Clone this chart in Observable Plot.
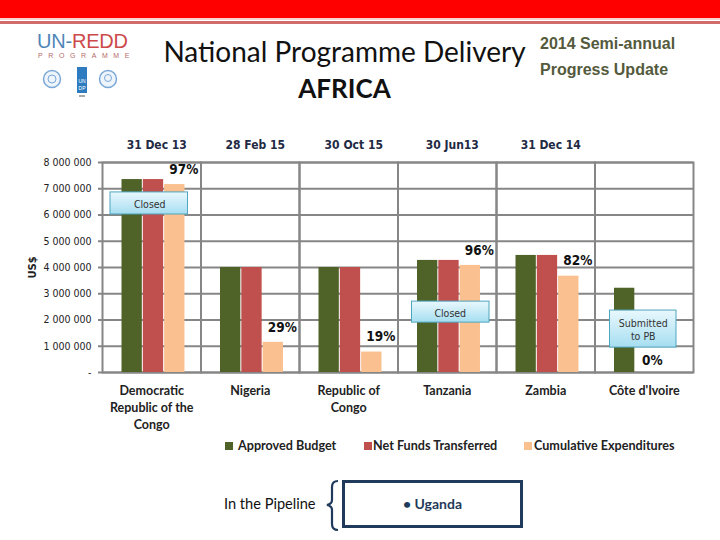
<!DOCTYPE html>
<html><head><meta charset="utf-8">
<script src="https://cdn.jsdelivr.net/npm/d3@7"></script>
<script src="https://cdn.jsdelivr.net/npm/@observablehq/plot@0.6"></script>
<style>
body{margin:0;background:#fff;}
#page{position:relative;width:720px;height:540px;overflow:hidden;background:#fff;font-family:Lato,"Open Sans",sans-serif;}
.abs{position:absolute;white-space:nowrap;}
</style></head>
<body>
<svg width="0" height="0" style="position:absolute"><defs>
<linearGradient id="cg" x1="0" y1="0" x2="0" y2="1">
<stop offset="0" stop-color="#e9f8fd"/><stop offset="1" stop-color="#a6def1"/>
</linearGradient></defs></svg>
<div id="page">
  <div class="abs" style="left:0;top:0;width:720px;height:18px;background:#ff0000"></div>
  <div class="abs" style="left:0;top:18px;width:720px;height:2px;background:#f6d4d4"></div>
  <div class="abs" style="left:0;top:21px;width:720px;height:3px;background:#cf6b6b"></div>
  <div class="abs" style="left:37px;top:29px;font-family:'Liberation Sans',Arial,sans-serif;font-size:20px;letter-spacing:-0.2px;line-height:24px"><span style="color:#4f86b8">UN-</span><span style="color:#cc4a4a">REDD</span></div>
  <div class="abs" style="left:38px;top:51px;font-family:'Liberation Sans',Arial,sans-serif;font-size:7px;letter-spacing:5.6px;color:#b76a6a;line-height:9px">PROGRAMME</div>
  <svg class="abs" style="left:40px;top:66px" width="80" height="34">
    <circle cx="12" cy="13" r="8.5" fill="#eef4fb" stroke="#7aa8d6" stroke-width="1.5"/>
    <circle cx="12" cy="13" r="4" fill="none" stroke="#7aa8d6" stroke-width="1"/>
    <rect x="37" y="1" width="10" height="26" fill="#2f7bc0"/>
    <text x="42" y="17" font-size="5" fill="#fff" text-anchor="middle" font-family="Liberation Sans">UN</text>
    <text x="42" y="24" font-size="5" fill="#fff" text-anchor="middle" font-family="Liberation Sans">DP</text>
    <rect x="39" y="29" width="6" height="2" fill="#aaa"/>
    <circle cx="68" cy="13" r="8.5" fill="#eef4fb" stroke="#7aa8d6" stroke-width="1.5"/>
    <circle cx="68" cy="12" r="3.5" fill="none" stroke="#7aa8d6" stroke-width="1"/>
  </svg>
  <div class="abs" style="left:0;width:689px;text-align:center;top:34px;font-size:28px;color:#111;line-height:34px">National Programme Delivery</div>
  <div class="abs" style="left:0;width:689px;text-align:center;top:71px;font-size:26px;font-weight:bold;color:#111;line-height:34px">AFRICA</div>
  <div class="abs" style="left:540px;top:34px;font-family:'Liberation Sans',Arial,sans-serif;font-weight:bold;font-size:16px;color:#545a3b;line-height:20px">2014 Semi-annual</div>
  <div class="abs" style="left:540px;top:60px;font-family:'Liberation Sans',Arial,sans-serif;font-weight:bold;font-size:16px;color:#545a3b;line-height:20px">Progress Update</div>
  <div id="chart" class="abs" style="left:0;top:125px"></div>
  <div id="legend" class="abs" style="left:0;top:436px;width:720px;height:20px"></div>
  <div class="abs" style="left:224px;top:494px;font-size:14.6px;color:#111;line-height:20px">In the Pipeline</div>
  <svg class="abs" style="left:322px;top:478px" width="20" height="56">
    <path d="M16,3 Q10,3 10,9 L10,22 Q10,26 5,27 Q10,28 10,32 L10,46 Q10,52 16,52" fill="none" stroke="#1f3a5a" stroke-width="2.2"/>
  </svg>
  <div class="abs" style="left:342px;top:480px;width:175px;height:42px;border:3px solid #1f3a5a;text-align:center;line-height:42px;font-size:14px;font-weight:bold;color:#1f3a5a">• Uganda</div>
</div>
<script>
// ---- data ----
const countries = ["Democratic Republic of the Congo", "Nigeria", "Republic of Congo", "Tanzania", "Zambia", "Côte d'Ivoire"];
const countryLabels = ["Democratic\nRepublic of the\nCongo", "Nigeria", "Republic of\nCongo", "Tanzania", "Zambia", "Côte d'Ivoire"];
const dates = ["31 Dec 13", "28 Feb 15", "30 Oct 15", "30 Jun13", "31 Dec 14", ""];
const series = ["Approved Budget", "Net Funds Transferred", "Cumulative Expenditures"];
const approvedBudget = [7350000, 4000000, 4000000, 4270000, 4460000, 3210000];
const netFundsTransferred = [7350000, 4000000, 4000000, 4270000, 4460000, 0];
const cumulativeExpenditures = [7160000, 1150000, 780000, 4080000, 3670000, 0];
const deliveryLabels = ["97%", "29%", "19%", "96%", "82%", "0%"];
const yTicks = [0, 1000000, 2000000, 3000000, 4000000, 5000000, 6000000, 7000000, 8000000];
const noteCountries = ["Democratic Republic of the Congo", "Tanzania", "Côte d'Ivoire"];
const noteLabels = ["Closed", "Closed", "Submitted\nto PB"];
const noteLow = [6020000, 1900000, 950000];
const noteHigh = [6860000, 2700000, 2360000];

const colors = ["#4f6228", "#c0504d", "#fac08f"];
const seriesValues = [approvedBudget, netFundsTransferred, cumulativeExpenditures];
const rows = countries.flatMap((c, i) => series.map((s, j) => ({country: c, series: s, value: seriesValues[j][i]})));
const pctRows = countries.map((c, i) => ({country: c, value: cumulativeExpenditures[i], label: deliveryLabels[i]}));
const dateRows = countries.map((c, i) => ({country: c, date: dates[i]}));
const notes = noteCountries.map((c, i) => ({country: c, label: noteLabels[i], lo: noteLow[i], hi: noteHigh[i]}));

const noteStyle = [
  {insetLeft: 8, insetRight: 13, dx: -2},
  {insetLeft: 14, insetRight: 7, dx: 3},
  {insetLeft: 15, insetRight: 17, dx: -1}
];
const condensed = "'DejaVu Sans Condensed','DejaVu Sans',sans-serif";
const fmt = d => d === 0 ? "-" : d3.format(",")(d).replace(/,/g, " ");
const grid = "#868686";

const chart = Plot.plot({
  width: 720, height: 310,
  marginTop: 37, marginBottom: 63, marginLeft: 102, marginRight: 27,
  style: {fontFamily: condensed, background: "transparent", overflow: "visible"},
  fx: {domain: countries, padding: 0, round: false, axis: null, label: null},
  x: {domain: series, paddingInner: 0, paddingOuter: 0.81, align: 0.55, axis: null, round: false},
  y: {domain: [0, 8000000], axis: null},
  color: {domain: series, range: colors},
  marks: [
    Plot.gridY(yTicks, {stroke: grid, strokeOpacity: 1, strokeWidth: 2}),
    Plot.frame({stroke: grid, strokeWidth: 2}),
    Plot.axisY(yTicks, {tickFormat: fmt, tickSize: 4, tickPadding: 7, stroke: grid, fill: "#222", fontSize: 10.5, strokeWidth: 2, label: null}),
    Plot.axisY([], {label: "US$", labelAnchor: "center", labelOffset: 74, labelArrow: "none", fontWeight: "bold", fontSize: 11, fill: "#222", tickSize: 0}),
    Plot.axisFx({anchor: "bottom", tickSize: 0, tickPadding: 10, label: null,
      tickFormat: d => countryLabels[countries.indexOf(d)],
      fontFamily: "Lato, sans-serif", fontWeight: "bold", fontSize: 12.5, lineHeight: 1.38, fill: "#222"}),
    Plot.barY(rows, {fx: "country", x: "series", y: "value", fill: "series", insetLeft: 0.5, insetRight: 0.5}),
    Plot.text(dateRows, {fx: "country", text: "date", frameAnchor: "top", dy: -22, dx: 5,
      fontWeight: "bold", fontSize: 12, fill: "#1f2a44"}),
    Plot.text(pctRows.filter(d => d.value > 0), {fx: "country", x: () => series[2], y: "value", text: "label",
      dx: 9, dy: -15, fontWeight: "bold", fontSize: 13.5, fill: "#111"}),
    Plot.text(pctRows.filter(d => d.value === 0), {fx: "country", x: () => series[2], y: "value", text: "label",
      dx: -15, dy: -12, fontWeight: "bold", fontSize: 13.5, fill: "#111"}),
    ...notes.flatMap((n, i) => [
      Plot.barY([n], {fx: "country", y1: "lo", y2: "hi", fill: "url(#cg)", stroke: "#4fa6bf", strokeWidth: 1,
        insetLeft: noteStyle[i].insetLeft, insetRight: noteStyle[i].insetRight}),
      Plot.text([n], {fx: "country", y: d => (d.lo + d.hi) / 2, text: "label", dx: noteStyle[i].dx,
        fontSize: 10.5, fill: "#333", lineHeight: 1.3})
    ])
  ]
});
document.getElementById("chart").appendChild(chart);

// legend
const legend = document.getElementById("legend");
const legendX = [[225, 238], [364, 373], [524, 534]];
series.forEach((s, i) => {
  const sw = document.createElement("div");
  sw.className = "abs";
  sw.style.cssText = `left:${legendX[i][0]}px;top:6px;width:8px;height:8px;background:${colors[i]}`;
  legend.appendChild(sw);
  const t = document.createElement("div");
  t.className = "abs";
  t.style.cssText = `left:${legendX[i][1]}px;top:0;font-size:12.6px;font-weight:bold;color:#222;line-height:20px`;
  t.textContent = s;
  legend.appendChild(t);
});
</script>
</body></html>
